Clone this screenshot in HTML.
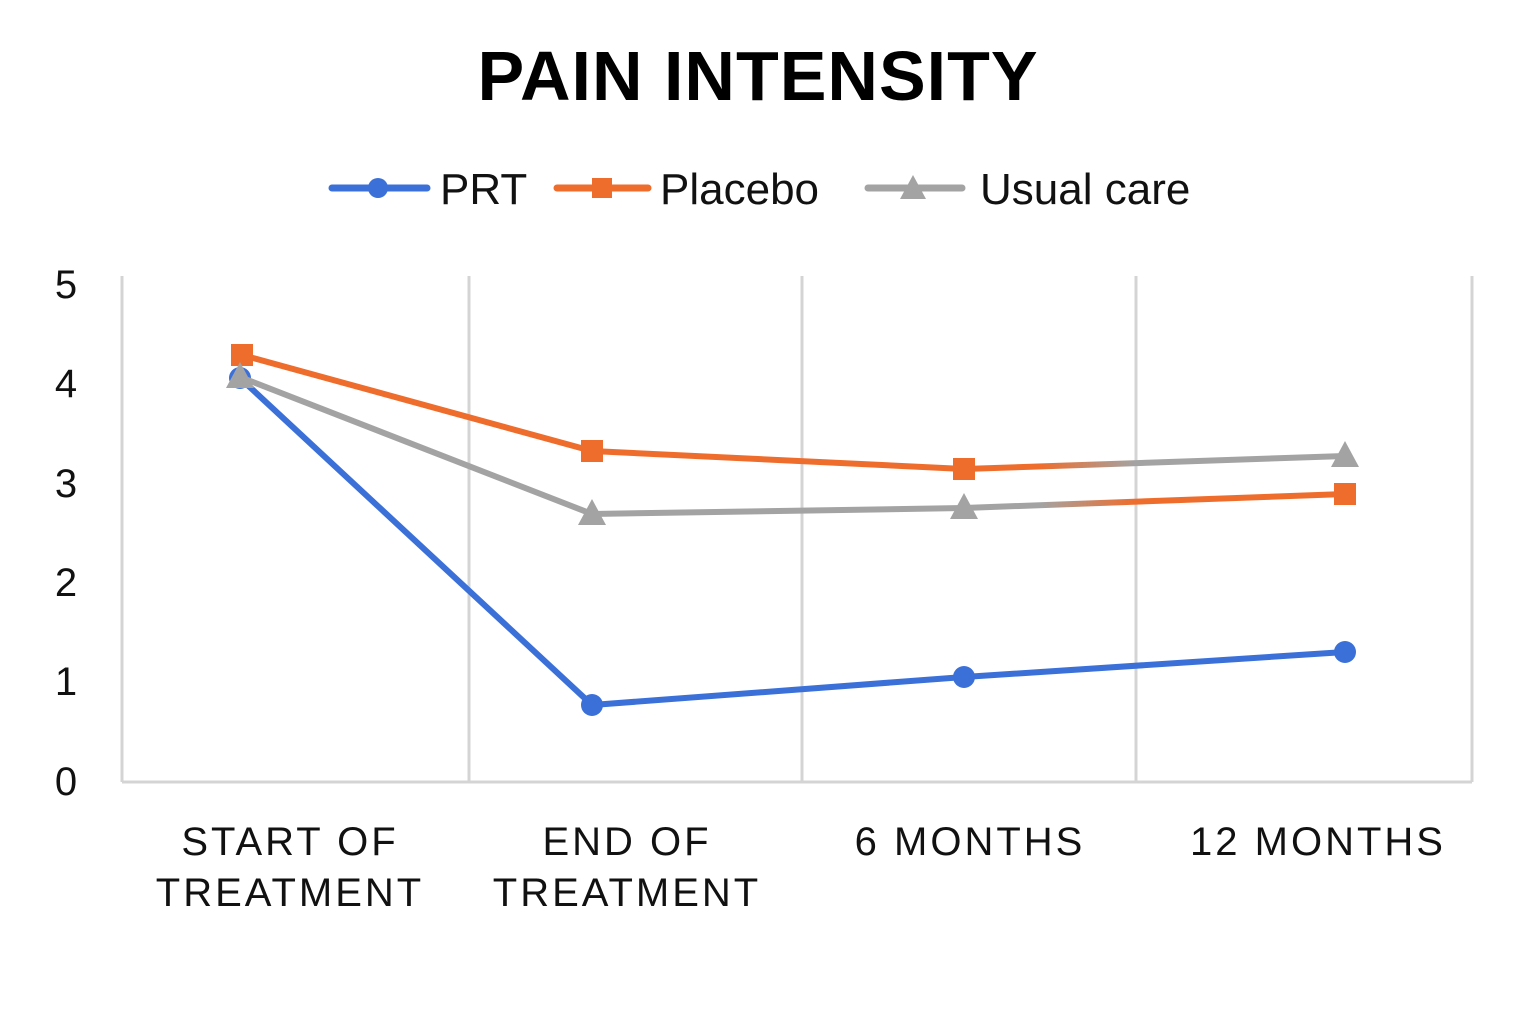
<!DOCTYPE html>
<html><head><meta charset="utf-8"><style>
html,body{margin:0;padding:0;background:#fff;}
svg{display:block;}
</style></head><body>
<svg width="1536" height="1024" viewBox="0 0 1536 1024" xmlns="http://www.w3.org/2000/svg" font-family="'Liberation Sans', 'DejaVu Sans', sans-serif">
<defs>
<linearGradient id="og" x1="964" y1="0" x2="1345" y2="0" gradientUnits="userSpaceOnUse">
<stop offset="0.2" stop-color="#ee6d2c"/><stop offset="0.45" stop-color="#a3a3a3"/></linearGradient>
<linearGradient id="go" x1="964" y1="0" x2="1345" y2="0" gradientUnits="userSpaceOnUse">
<stop offset="0.2" stop-color="#a3a3a3"/><stop offset="0.45" stop-color="#ee6d2c"/></linearGradient>
</defs>
<rect width="1536" height="1024" fill="#fff"/>
<text x="758" y="100" text-anchor="middle" font-size="70" font-weight="bold" fill="#000" letter-spacing="1">PAIN INTENSITY</text>
<!-- legend -->
<line x1="332" y1="188" x2="427" y2="188" stroke="#3a70d8" stroke-width="7" stroke-linecap="round"/>
<circle cx="378" cy="188" r="10" fill="#3a70d8"/>
<text x="440" y="204" font-size="44" fill="#111">PRT</text>
<line x1="557" y1="188" x2="648" y2="188" stroke="#ee6d2c" stroke-width="7" stroke-linecap="round"/>
<rect x="592" y="178" width="20" height="20" fill="#ee6d2c"/>
<text x="660" y="204" font-size="44" fill="#111">Placebo</text>
<line x1="868" y1="188" x2="962" y2="188" stroke="#a3a3a3" stroke-width="7" stroke-linecap="round"/>
<polygon points="913,175 926,199 900,199" fill="#a3a3a3"/>
<text x="980" y="204" font-size="44" fill="#111">Usual care</text>
<!-- grid -->
<g stroke="#d4d4d4" stroke-width="3">
<line x1="122" y1="276" x2="122" y2="782"/>
<line x1="469" y1="276" x2="469" y2="782"/>
<line x1="802" y1="276" x2="802" y2="782"/>
<line x1="1136" y1="276" x2="1136" y2="782"/>
<line x1="1472" y1="276" x2="1472" y2="782"/>
<line x1="122" y1="782" x2="1472" y2="782"/>
</g>
<g font-size="40" fill="#111" text-anchor="middle">
<text x="66" y="298">5</text>
<text x="66" y="397">4</text>
<text x="66" y="497">3</text>
<text x="66" y="596">2</text>
<text x="66" y="695">1</text>
<text x="66" y="795">0</text>
</g>
<g font-size="40" fill="#111" text-anchor="middle" letter-spacing="3">
<text x="290" y="855">START OF</text>
<text x="290" y="906">TREATMENT</text>
<text x="627" y="855">END OF</text>
<text x="627" y="906">TREATMENT</text>
<text x="970" y="855">6 MONTHS</text>
<text x="1318" y="855">12 MONTHS</text>
</g>
<!-- series -->
<polyline points="240,378 592,705 964,677 1345,652" fill="none" stroke="#3a70d8" stroke-width="6"/>
<g fill="#3a70d8"><circle cx="240" cy="378" r="11"/><circle cx="592" cy="705" r="11"/><circle cx="964" cy="677" r="11"/><circle cx="1345" cy="652" r="11"/></g>
<polyline points="240,377 592,514 964,508" fill="none" stroke="#a3a3a3" stroke-width="6"/>
<polyline points="242,355 592,451 964,469" fill="none" stroke="#ee6d2c" stroke-width="6"/>
<line x1="964" y1="469" x2="1345" y2="456" stroke="url(#og)" stroke-width="6"/>
<line x1="964" y1="508" x2="1345" y2="494" stroke="url(#go)" stroke-width="6"/>
<g fill="#ee6d2c"><rect x="231" y="344" width="22" height="22"/><rect x="581" y="440" width="22" height="22"/><rect x="953" y="458" width="22" height="22"/><rect x="1334" y="483" width="22" height="22"/></g>
<g fill="#a3a3a3"><polygon points="240,362 254,388 226,388"/><polygon points="592,499 606,525 578,525"/><polygon points="964,493 978,519 950,519"/><polygon points="1345,441 1359,467 1331,467"/></g>
</svg>
</body></html>
